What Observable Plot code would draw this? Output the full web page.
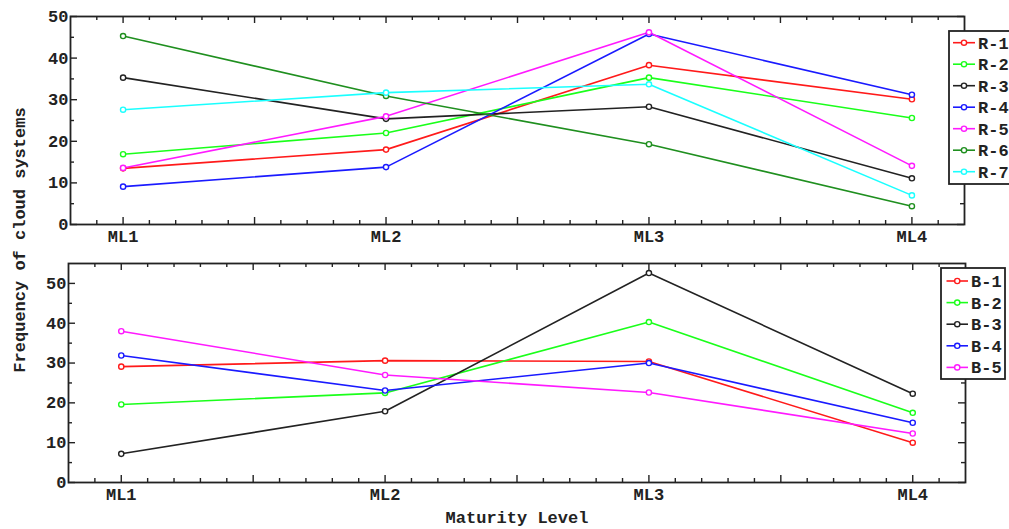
<!DOCTYPE html>
<html>
<head>
<meta charset="utf-8">
<script src="https://cdn.jsdelivr.net/npm/d3@7"></script>
<script src="https://cdn.jsdelivr.net/npm/@observablehq/plot@0.6"></script>
<style>
  body { margin: 0; background: #fff; }
  #chart { position: relative; width: 1009px; height: 529px; overflow: hidden; background: #fff; }
  #chart svg { position: absolute; left: 0; }
</style>
</head>
<body>
<div id="chart"></div>
<script>
// Maturity levels along the x axis
const levels = ["ML1", "ML2", "ML3", "ML4"];

// Upper panel: R-group frequencies per maturity level
const rNames = ["R-1", "R-2", "R-3", "R-4", "R-5", "R-6", "R-7"];
const rColors = ["#ff1a1a", "#1aff1a", "#222222", "#1a1aff", "#ff1aff", "#1f8f1f", "#1affff"];
const r1 = [13.5, 18.0, 38.3, 30.1];
const r2 = [16.9, 22.0, 35.3, 25.6];
const r3 = [35.3, 25.4, 28.3, 11.1];
const r4 = [9.1, 13.8, 45.8, 31.2];
const r5 = [13.6, 26.0, 46.2, 14.1];
const r6 = [45.3, 30.9, 19.3, 4.4];
const r7 = [27.6, 31.7, 33.7, 7.0];

// Lower panel: B-group frequencies per maturity level
const bNames = ["B-1", "B-2", "B-3", "B-4", "B-5"];
const bColors = ["#ff1a1a", "#1aff1a", "#222222", "#1a1aff", "#ff1aff"];
const b1 = [29.1, 30.6, 30.4, 10.0];
const b2 = [19.6, 22.5, 40.3, 17.5];
const b3 = [7.2, 17.9, 52.6, 22.3];
const b4 = [31.9, 23.1, 30.0, 15.0];
const b5 = [38.0, 27.0, 22.6, 12.3];

const yTitle = "Frequency of cloud systems";
const xTitle = "Maturity Level";

const FONT = "'Liberation Mono', 'DejaVu Sans Mono', monospace";
const ink = "#222";
const root = document.getElementById("chart");

function panel({names, colors, values, yMax, top, height, ml, mr, mt, mb}) {
  const width = 1009;
  const W = width - ml - mr;
  const H = height - mt - mb;
  const rows = names.flatMap((name, i) =>
    values[i].map((v, j) => ({series: name, x: j + 1, y: v})));

  const majorX = d3.range(2, 9).map(k => k / 2);              // 1, 1.5, ... 4
  const minorX = d3.range(9, 42).filter(k => k % 5 !== 0).map(k => k / 10);
  const majorY = d3.range(0, yMax + 1, 10);
  const minorY = d3.range(5, yMax, 10);

  const tickStyle = {stroke: ink, strokeWidth: 1.4};
  const chart = Plot.plot({
    width, height,
    marginLeft: ml, marginRight: mr, marginTop: mt, marginBottom: mb,
    style: {fontFamily: FONT, fontSize: "17px", fontWeight: "bold", color: ink, background: "transparent"},
    x: {domain: [0.8, 4.2], label: null},
    y: {domain: [0, yMax], label: null},
    color: {domain: names, range: colors},
    marks: [
      // inward ticks on all four sides
      Plot.tickX(majorX, {x: d => d, insetTop: H - 7, ...tickStyle}),
      Plot.tickX(minorX, {x: d => d, insetTop: H - 4, ...tickStyle}),
      Plot.tickX(majorX, {x: d => d, insetBottom: H - 7, ...tickStyle}),
      Plot.tickX(minorX, {x: d => d, insetBottom: H - 4, ...tickStyle}),
      Plot.tickY(majorY, {y: d => d, insetRight: W - 7, ...tickStyle}),
      Plot.tickY(minorY, {y: d => d, insetRight: W - 4, ...tickStyle}),
      Plot.tickY(majorY, {y: d => d, insetLeft: W - 7, ...tickStyle}),
      Plot.tickY(minorY, {y: d => d, insetLeft: W - 4, ...tickStyle}),
      Plot.axisX({ticks: [1, 2, 3, 4], tickFormat: d => levels[d - 1], tickSize: 0, tickPadding: 5, fill: ink}),
      Plot.axisY({ticks: majorY, tickSize: 0, tickPadding: 2, fill: ink}),
      Plot.line(rows, {x: "x", y: "y", z: "series", stroke: "series", strokeWidth: 1.6}),
      Plot.dot(rows, {x: "x", y: "y", stroke: "series", fill: "white", r: 2.6, strokeWidth: 1.4}),
      Plot.frame({stroke: ink, strokeWidth: 1.8})
    ]
  });
  chart.style.top = top + "px";
  root.appendChild(chart);
}

panel({names: rNames, colors: rColors, values: [r1, r2, r3, r4, r5, r6, r7],
       yMax: 50, top: 0, height: 250, ml: 70, mr: 45, mt: 16, mb: 26});
panel({names: bNames, colors: bColors, values: [b1, b2, b3, b4, b5],
       yMax: 55, top: 250, height: 262, ml: 68, mr: 44, mt: 13, mb: 30});

// Overlay: legends and shared axis titles
const overlay = d3.select(root).append("svg")
  .attr("width", 1009).attr("height", 529)
  .style("top", "0px")
  .attr("font-family", FONT).attr("font-weight", "bold").attr("font-size", 17).attr("fill", ink);

function legend(names, colors, box, y0, step, lx0, lx1, tx) {
  const g = overlay.append("g");
  g.append("rect").attr("x", box[0]).attr("y", box[1]).attr("width", box[2]).attr("height", box[3])
    .attr("fill", "white").attr("stroke", ink).attr("stroke-width", 1.8);
  names.forEach((name, i) => {
    const y = y0 + i * step;
    g.append("line").attr("x1", lx0).attr("x2", lx1).attr("y1", y).attr("y2", y)
      .attr("stroke", colors[i]).attr("stroke-width", 1.6);
    g.append("circle").attr("cx", (lx0 + lx1) / 2).attr("cy", y).attr("r", 2.6)
      .attr("fill", "white").attr("stroke", colors[i]).attr("stroke-width", 1.4);
    g.append("text").attr("x", tx).attr("y", y).attr("dy", "0.35em").text(name);
  });
}

legend(rNames, rColors, [949, 31, 80, 153], 42.7, 21.5, 953, 975, 978);
legend(bNames, bColors, [941, 268, 64, 111], 281, 21.6, 946.5, 968, 971);

overlay.append("text")
  .attr("transform", "translate(19,240) rotate(-90)")
  .attr("text-anchor", "middle").attr("dy", "0.35em")
  .text(yTitle);

overlay.append("text")
  .attr("x", 517).attr("y", 517)
  .attr("text-anchor", "middle").attr("dy", "0.35em")
  .text(xTitle);
</script>
</body>
</html>
